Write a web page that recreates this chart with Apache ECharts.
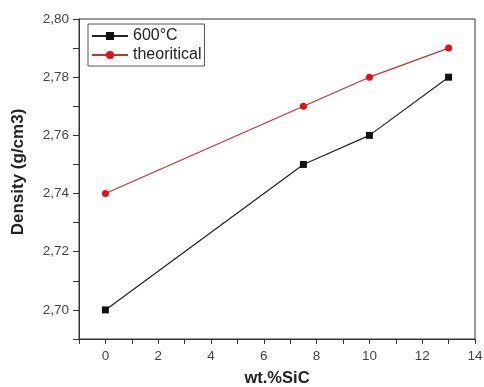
<!DOCTYPE html>
<html>
<head>
<meta charset="utf-8">
<script src="https://cdn.jsdelivr.net/npm/echarts@6/dist/echarts.min.js"></script>
<style>
  html, body { margin: 0; padding: 0; background: #fff; }
  #chart { width: 484px; height: 387px; }
</style>
</head>
<body>
<div id="chart"></div>
<script>
const sicContent = [0, 7.5, 10, 13]
const density600 = [2.70, 2.75, 2.76, 2.78]
const densityTheory = [2.74, 2.77, 2.78, 2.79]
const seriesNames = ['600°C', 'theoritical']

const chart = echarts.init(document.getElementById('chart'))
const font = 'Liberation Sans, Arial, sans-serif'

const option = {
  animation: false,
  grid: {
    left: 79, right: 9, top: 19, bottom: 48,
    outerBoundsMode: 'none',
    show: true, borderColor: '#333', borderWidth: 1
  },
  legend: {
    left: 88, top: 24,
    orient: 'vertical',
    itemGap: 3,
    itemWidth: 36, itemHeight: 10,
    padding: [4, 3, 3, 3],
    borderColor: '#555', borderWidth: 1,
    textStyle: { fontFamily: font, fontSize: 16, color: '#222' },
    data: seriesNames
  },
  xAxis: {
    type: 'value',
    min: -1, max: 14, interval: 1,
    name: 'wt.%SiC',
    nameLocation: 'middle', nameGap: 31,
    nameTextStyle: { fontFamily: font, fontSize: 16.5, fontWeight: 'bold', color: '#222' },
    axisLine: { onZero: false, lineStyle: { color: '#333' } },
    axisTick: { length: 5, lineStyle: { color: '#333' } },
    splitLine: { show: false },
    axisLabel: {
      fontFamily: font, fontSize: 13.5, color: '#444', margin: 10,
      formatter: v => (v >= 0 && v % 2 === 0) ? String(v) : ''
    }
  },
  yAxis: {
    type: 'value',
    min: 2.69, max: 2.80, interval: 0.01,
    name: 'Density (g/cm3)',
    nameLocation: 'middle', nameGap: 52,
    nameTextStyle: { fontFamily: font, fontSize: 17, fontWeight: 'bold', color: '#222', padding: [0, 0, 0, 14] },
    axisLine: { show: true, onZero: false, lineStyle: { color: '#333' } },
    axisTick: { length: 6, lineStyle: { color: '#333' } },
    splitLine: { show: false },
    axisLabel: {
      fontFamily: font, fontSize: 13.5, color: '#444', margin: 10,
      formatter: v => {
        const k = Math.round(v * 100)
        return k % 2 === 0 ? v.toFixed(2).replace('.', ',') : ''
      }
    }
  },
  series: [
    {
      name: seriesNames[0],
      type: 'line',
      data: sicContent.map((x, i) => [x, density600[i]]),
      symbol: 'rect', symbolSize: 7,
      itemStyle: { color: '#111' },
      lineStyle: { color: '#222', width: 1.2 }
    },
    {
      name: seriesNames[1],
      type: 'line',
      data: sicContent.map((x, i) => [x, densityTheory[i]]),
      symbol: 'circle', symbolSize: 7,
      itemStyle: { color: '#e0101a' },
      lineStyle: { color: '#c83030', width: 1.2 }
    }
  ]
}

chart.setOption(option)
</script>
</body>
</html>
